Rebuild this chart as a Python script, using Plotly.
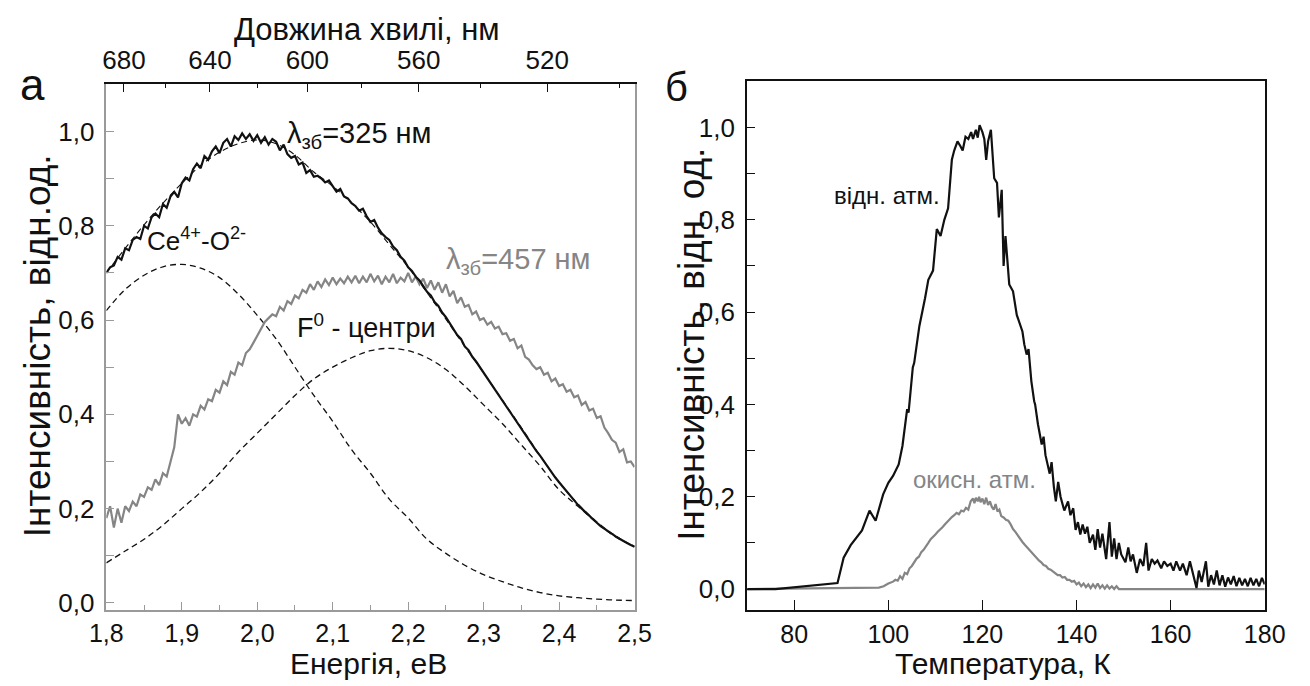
import plotly.graph_objects as go

# ---------------- Panel "а": luminescence spectra ----------------
energy_fine = [round(1.8 + 0.005 * i, 3) for i in range(141)]

spec_325 = [
    0.700, 0.712, 0.716, 0.734, 0.728, 0.752, 0.748, 0.770, 0.776, 0.772,
    0.800, 0.794, 0.818, 0.826, 0.818, 0.846, 0.838, 0.862, 0.872, 0.860,
    0.890, 0.902, 0.896, 0.920, 0.932, 0.922, 0.948, 0.940, 0.958, 0.968,
    0.954, 0.976, 0.984, 0.968, 0.990, 0.982, 0.996, 0.984, 0.994, 0.980,
    0.992, 0.976, 0.988, 0.972, 0.984, 0.978, 0.960, 0.972, 0.952, 0.944,
    0.948, 0.930, 0.934, 0.912, 0.918, 0.904, 0.906, 0.900, 0.892, 0.896,
    0.884, 0.872, 0.878, 0.862, 0.858, 0.848, 0.842, 0.832, 0.836, 0.820,
    0.808, 0.812, 0.796, 0.784, 0.776, 0.770, 0.756, 0.748, 0.734, 0.726,
    0.712, 0.704, 0.692, 0.684, 0.672, 0.660, 0.652, 0.638, 0.630, 0.616,
    0.606, 0.594, 0.582, 0.568, 0.560, 0.544, 0.536, 0.522, 0.512, 0.500,
    0.488, 0.476, 0.466, 0.452, 0.442, 0.428, 0.418, 0.404, 0.394, 0.380,
    0.370, 0.356, 0.346, 0.334, 0.322, 0.312, 0.300, 0.288, 0.278, 0.266,
    0.256, 0.246, 0.236, 0.226, 0.218, 0.208, 0.200, 0.192, 0.184, 0.176,
    0.170, 0.163, 0.157, 0.151, 0.146, 0.141, 0.136, 0.131, 0.127, 0.123,
    0.119,
]

spec_457 = [
    0.180, 0.205, 0.160, 0.200, 0.170, 0.205, 0.195, 0.215, 0.205, 0.230,
    0.225, 0.245, 0.240, 0.262, 0.250, 0.275, 0.268, 0.300, 0.330, 0.400,
    0.380, 0.392, 0.376, 0.400, 0.395, 0.418, 0.410, 0.432, 0.428, 0.452,
    0.446, 0.470, 0.462, 0.490, 0.484, 0.510, 0.504, 0.530, 0.538, 0.552,
    0.566, 0.580, 0.596, 0.604, 0.612, 0.608, 0.628, 0.620, 0.640, 0.634,
    0.652, 0.646, 0.664, 0.658, 0.676, 0.664, 0.682, 0.670, 0.686, 0.674,
    0.690, 0.676, 0.688, 0.678, 0.692, 0.680, 0.694, 0.678, 0.692, 0.680,
    0.698, 0.682, 0.694, 0.676, 0.692, 0.680, 0.698, 0.678, 0.690, 0.682,
    0.700, 0.680, 0.692, 0.676, 0.688, 0.668, 0.684, 0.664, 0.680, 0.658,
    0.676, 0.650, 0.662, 0.636, 0.648, 0.628, 0.632, 0.612, 0.618, 0.600,
    0.604, 0.590, 0.596, 0.582, 0.586, 0.570, 0.572, 0.556, 0.560, 0.540,
    0.546, 0.522, 0.516, 0.504, 0.496, 0.500, 0.484, 0.488, 0.470, 0.476,
    0.460, 0.464, 0.448, 0.452, 0.436, 0.440, 0.420, 0.426, 0.408, 0.412,
    0.392, 0.396, 0.372, 0.360, 0.346, 0.340, 0.320, 0.326, 0.298, 0.300,
    0.288,
]

energy_fit = [round(1.8 + 0.025 * i, 3) for i in range(29)]
band_ce = [0.620, 0.665, 0.695, 0.713, 0.718, 0.710, 0.690, 0.655, 0.610, 0.560,
           0.500, 0.440, 0.385, 0.325, 0.275, 0.220, 0.180, 0.135, 0.105, 0.080,
           0.060, 0.045, 0.032, 0.022, 0.015, 0.011, 0.008, 0.006, 0.005]
band_f0 = [0.085, 0.110, 0.135, 0.165, 0.200, 0.235, 0.275, 0.320, 0.360, 0.400,
           0.440, 0.475, 0.500, 0.520, 0.535, 0.540, 0.535, 0.520, 0.495, 0.460,
           0.420, 0.380, 0.335, 0.290, 0.240, 0.205, 0.170, 0.140, 0.120]
fit_sum = [0.700, 0.752, 0.802, 0.848, 0.890, 0.928, 0.956, 0.974, 0.982, 0.974,
           0.950, 0.914, 0.884, 0.848, 0.808, 0.760, 0.712, 0.658, 0.602, 0.544,
           0.488, 0.430, 0.372, 0.312, 0.256, 0.210, 0.172, 0.142, 0.119]

wl_major = [680, 640, 600, 560, 520]
wl_minor = [660, 620, 580, 540, 500]

# ---------------- Panel "б": thermoluminescence ----------------
tl_reduced = [
    (70, 0), (76, 0), (89.2, 0.013), (90, 0.05), (90.5, 0.068), (92, 0.095),
    (94.4, 0.127), (96, 0.17), (97.3, 0.148), (98.9, 0.205), (100, 0.23),
    (101, 0.245), (102.2, 0.27), (103, 0.31), (104, 0.39), (104.3, 0.382),
    (105.2, 0.48), (105.5, 0.49), (106.6, 0.57), (107.8, 0.63), (108.5, 0.67),
    (109.5, 0.69), (110.3, 0.78), (111.1, 0.765), (111.9, 0.80), (112.7, 0.825),
    (113.5, 0.93), (114, 0.95), (114.7, 0.97), (115.3, 0.96), (115.8, 0.95),
    (116.4, 0.98), (117, 0.975), (117.6, 0.99), (118, 0.975), (118.6, 0.995),
    (119, 0.978), (119.4, 1.005), (120, 0.99), (120.4, 0.975), (120.8, 0.93),
    (121.2, 0.97), (121.8, 0.995), (122.5, 0.89), (123.1, 0.88), (123.5, 0.805),
    (124.1, 0.865), (124.5, 0.70), (124.9, 0.765), (125.7, 0.66), (126.5, 0.645),
    (127.3, 0.594), (128.5, 0.558), (128.9, 0.53), (129.4, 0.508), (129.8, 0.52),
    (130.4, 0.45), (131, 0.407), (131.2, 0.40), (131.8, 0.357), (132.6, 0.313),
    (133, 0.33), (133.4, 0.29), (134.3, 0.25), (134.7, 0.275), (135.2, 0.22),
    (135.6, 0.19), (136.1, 0.232), (136.6, 0.2), (137.4, 0.17), (138.2, 0.19),
    (138.7, 0.16), (139.3, 0.175), (139.8, 0.128), (140.3, 0.145), (140.8, 0.118),
    (141.3, 0.14), (141.8, 0.12), (142.3, 0.135), (142.8, 0.1), (143.5, 0.118),
    (144, 0.085), (144.5, 0.13), (145, 0.09), (145.5, 0.12), (146.3, 0.065),
    (147, 0.145), (147.5, 0.07), (148, 0.11), (148.5, 0.065), (149, 0.1),
    (149.5, 0.075), (150.4, 0.058), (151, 0.09), (151.5, 0.06), (152, 0.075),
    (152.8, 0.035), (153.5, 0.065), (154.2, 0.05), (154.8, 0.1), (155.3, 0.04),
    (156, 0.065), (156.6, 0.055), (157.2, 0.062), (158, 0.045), (158.6, 0.06),
    (159.3, 0.05), (160, 0.055), (160.6, 0.04), (161.2, 0.06), (162, 0.04),
    (162.6, 0.055), (163.4, 0.03), (164.1, 0.06), (164.8, 0.03), (165.5, 0.002),
    (166, 0.04), (166.6, 0.015), (167.5, 0.06), (168, 0.005), (168.6, 0.03),
    (169.2, 0.01), (169.8, 0.04), (170.4, 0.008), (171, 0.03), (171.6, 0.005),
    (172.2, 0.025), (172.8, 0.01), (173.4, 0.028), (174, 0.006), (174.6, 0.024),
    (175.2, 0.008), (175.8, 0.022), (176.4, 0.006), (177, 0.024), (177.6, 0.008),
    (178.2, 0.022), (178.8, 0.006), (179.4, 0.024), (180, 0.01),
]

tl_oxidized = [
    (70, 0), (98, 0.003), (99, 0.006), (100, 0.012), (101, 0.016), (101.5, 0.02),
    (102, 0.018), (102.5, 0.028), (103, 0.022), (103.5, 0.035), (104, 0.032),
    (104.5, 0.045), (105, 0.05), (105.5, 0.058), (106, 0.066), (106.5, 0.07),
    (107, 0.08), (107.5, 0.085), (108, 0.094), (108.5, 0.1), (109, 0.108),
    (109.5, 0.112), (110, 0.118), (110.5, 0.124), (111, 0.128), (111.5, 0.134),
    (112, 0.14), (112.5, 0.146), (113, 0.152), (113.5, 0.156), (114, 0.16),
    (114.5, 0.165), (115, 0.162), (115.5, 0.17), (116, 0.168), (116.5, 0.176),
    (117, 0.172), (117.5, 0.19), (118, 0.196), (118.3, 0.186), (118.6, 0.198),
    (119, 0.19), (119.3, 0.2), (119.6, 0.188), (120, 0.196), (120.4, 0.184),
    (120.8, 0.198), (121.2, 0.182), (121.6, 0.19), (122, 0.178), (122.4, 0.172),
    (122.8, 0.184), (123.2, 0.168), (123.6, 0.172), (124, 0.158), (124.5, 0.155),
    (125, 0.15), (125.5, 0.148), (126, 0.14), (126.5, 0.13), (127, 0.124),
    (127.5, 0.116), (128, 0.11), (128.5, 0.102), (129, 0.096), (129.5, 0.09),
    (130, 0.084), (130.5, 0.078), (131, 0.072), (131.5, 0.068), (132, 0.062),
    (132.5, 0.058), (133, 0.052), (133.5, 0.05), (134, 0.044), (134.5, 0.042),
    (135, 0.038), (135.5, 0.036), (136, 0.03), (136.5, 0.03), (137, 0.025),
    (137.5, 0.026), (138, 0.02), (138.5, 0.02), (139, 0.016), (139.5, 0.018),
    (140, 0.01), (140.5, 0.014), (141, 0.006), (141.5, 0.012), (142, 0.004),
    (142.5, 0.01), (143, 0.002), (143.5, 0.01), (144, 0.003), (144.5, 0.012),
    (145, 0.002), (145.5, 0.008), (146, 0.001), (146.5, 0.008), (147, 0.001),
    (147.5, 0.006), (148, 0.0), (148.5, 0.006), (149, 0.0), (150, 0.0), (180, 0.0),
]

# ---------------- Figure ----------------
W, H = 1310, 686
FONT = "Liberation Sans, Arial, sans-serif"
BLACK = "#111111"
GRAY = "#858585"
LGRAY = "#9a9a9a"


def px(x):
    return x / W


def py(y):
    return 1 - y / H


fig = go.Figure()

# left panel traces
dash = "6px,4px"
fig.add_trace(go.Scatter(x=energy_fit, y=band_ce, mode="lines", xaxis="x", yaxis="y",
                         line=dict(color=BLACK, width=1.3, dash=dash, shape="spline")))
fig.add_trace(go.Scatter(x=energy_fit, y=band_f0, mode="lines", xaxis="x", yaxis="y",
                         line=dict(color=BLACK, width=1.3, dash=dash, shape="spline")))
fig.add_trace(go.Scatter(x=energy_fit, y=fit_sum, mode="lines", xaxis="x", yaxis="y",
                         line=dict(color=BLACK, width=1.1, dash=dash, shape="spline")))
fig.add_trace(go.Scatter(x=energy_fine, y=spec_457, mode="lines", xaxis="x", yaxis="y",
                         line=dict(color=GRAY, width=2.2)))
fig.add_trace(go.Scatter(x=energy_fine, y=spec_325, mode="lines", xaxis="x", yaxis="y",
                         line=dict(color=BLACK, width=2.2)))
# invisible trace to activate the top wavelength axis
fig.add_trace(go.Scatter(x=[1.8, 2.5], y=[0, 0], mode="lines", xaxis="x3", yaxis="y",
                         line=dict(width=0), showlegend=False, hoverinfo="skip"))

# right panel traces
fig.add_trace(go.Scatter(x=[p[0] for p in tl_oxidized], y=[p[1] for p in tl_oxidized],
                         mode="lines", xaxis="x2", yaxis="y2",
                         line=dict(color=GRAY, width=2.2)))
fig.add_trace(go.Scatter(x=[p[0] for p in tl_reduced], y=[p[1] for p in tl_reduced],
                         mode="lines", xaxis="x2", yaxis="y2",
                         line=dict(color=BLACK, width=2.2)))

tickfont = dict(family=FONT, size=26, color=BLACK)
xtickfont = dict(family=FONT, size=25, color=BLACK)

left_x_dom = [px(92), px(636)]
left_y_dom = [py(616.7), py(85.3)]
right_x_dom = [px(752), px(1285)]
right_y_dom = [py(617), py(82.3)]

fig.update_layout(
    width=W, height=H,
    margin=dict(l=0, r=0, t=0, b=0),
    paper_bgcolor="white", plot_bgcolor="white",
    showlegend=False,
    separators=", ",
    font=dict(family=FONT, color=BLACK),
    xaxis=dict(domain=left_x_dom, anchor="y", range=[1.8, 2.5],
               tickvals=[1.8, 1.9, 2.0, 2.1, 2.2, 2.3, 2.4, 2.5], tickformat=".1f",
               ticks="inside", ticklen=8, tickwidth=1, tickcolor=LGRAY,
               minor=dict(dtick=0.05, tick0=1.8, ticks="inside", ticklen=5, tickcolor=LGRAY),
               showline=True, linecolor=LGRAY, linewidth=1.5, mirror=False,
               showgrid=False, zeroline=False, tickfont=xtickfont, ticklabelstandoff=1),
    xaxis3=dict(overlaying="x", anchor="y", side="top", range=[1.8, 2.5],
                tickvals=[1239.84 / w for w in wl_major],
                ticktext=[str(w) for w in wl_major],
                ticks="inside", ticklen=8, tickwidth=1.2, tickcolor=BLACK,
                minor=dict(tickvals=[1239.84 / w for w in wl_minor], ticks="inside",
                           ticklen=4, tickcolor=BLACK),
                showline=True, linecolor=BLACK, linewidth=2,
                showgrid=False, zeroline=False, tickfont=tickfont, ticklabelstandoff=3),
    yaxis=dict(domain=left_y_dom, anchor="x", range=[-0.014, 1.1],
               tickvals=[0, 0.2, 0.4, 0.6, 0.8, 1.0], tickformat=".1f",
               ticks="inside", ticklen=8, tickwidth=1, tickcolor=LGRAY,
               minor=dict(dtick=0.1, tick0=0, ticks="inside", ticklen=8, tickcolor=LGRAY),
               showline=True, linecolor=LGRAY, linewidth=1.5, mirror=True,
               showgrid=False, zeroline=False, tickfont=tickfont, ticklabelstandoff=5),
    xaxis2=dict(domain=right_x_dom, anchor="y2", range=[70, 180],
                tickvals=[80, 100, 120, 140, 160, 180],
                ticks="inside", ticklen=10, tickwidth=1.2, tickcolor=BLACK,
                showline=True, linecolor=BLACK, linewidth=2, mirror=True,
                showgrid=False, zeroline=False, tickfont=xtickfont, ticklabelstandoff=1),
    yaxis2=dict(domain=right_y_dom, anchor="x2", range=[-0.045, 1.1],
                tickvals=[0, 0.2, 0.4, 0.6, 0.8, 1.0], tickformat=".1f",
                ticks="inside", ticklen=8, tickwidth=1.2, tickcolor=BLACK,
                minor=dict(dtick=0.1, tick0=0, ticks="inside", ticklen=8, tickcolor=BLACK),
                showline=True, linecolor=BLACK, linewidth=2, mirror=True,
                showgrid=False, zeroline=False, tickfont=tickfont, ticklabelstandoff=5),
)


def note(text, x, y, size=26, color=BLACK, angle=0, xanchor="center"):
    fig.add_annotation(text=text, x=px(x), y=py(y), xref="paper", yref="paper",
                       showarrow=False, xanchor=xanchor, yanchor="middle",
                       textangle=angle, font=dict(family=FONT, size=size, color=color))


# axis titles and panel letters
note("Довжина хвилі, нм", 360, 30, size=31)
note("а", 16, 86, size=44)
note("Інтенсивність, відн.од.", 22, 350, size=37, angle=-90)
note("Енергія, еВ", 362, 671, size=30)
note("б", 679, 88, size=40)
note("Інтенсивність, відн. од.", 695, 348, size=37, angle=-90)
note("Температура, К", 1015, 671, size=30)

# in-plot labels
note("λ<sub>зб</sub>=325 нм", 276, 137, size=29, xanchor="left")
note("Ce<sup>4+</sup>-O<sup>2-</sup>", 132, 242, size=26, xanchor="left")
note("λ<sub>зб</sub>=457 нм", 440, 264, size=29, color=GRAY, xanchor="left")
note("F<sup>0</sup> - центри", 286, 330, size=27, xanchor="left")
note("відн. атм.", 839, 198, size=24, xanchor="left")
note("окисн. атм.", 921, 485, size=24, color=GRAY, xanchor="left")

fig.write_html("out.html",
               config={"displayModeBar": False},
               post_script="document.body.style.margin='0';document.body.style.overflow='hidden';")
